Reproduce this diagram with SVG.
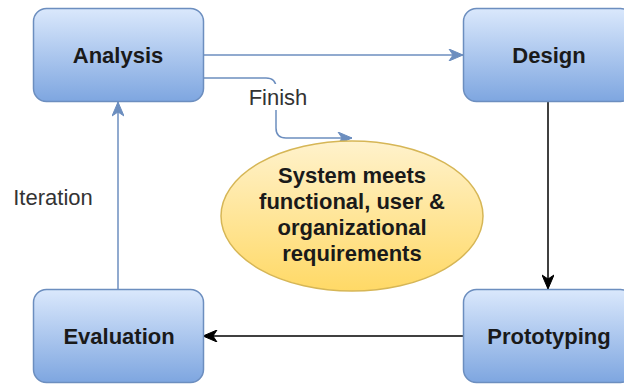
<svg xmlns="http://www.w3.org/2000/svg" width="624" height="384" viewBox="0 0 624 384">
<defs>
<linearGradient id="gBlue" x1="0" y1="0" x2="0" y2="1">
<stop offset="0" stop-color="#dae8fc"/>
<stop offset="1" stop-color="#7ea6e0"/>
</linearGradient>
<linearGradient id="gYel" x1="0" y1="0" x2="0" y2="1">
<stop offset="0" stop-color="#fff2cc"/>
<stop offset="1" stop-color="#ffd966"/>
</linearGradient>
<marker id="aBlue" viewBox="0 0 16 12" refX="15" refY="6" markerWidth="16" markerHeight="12" markerUnits="userSpaceOnUse" orient="auto">
<path d="M15,6 L1,0 L5,6 L1,12 Z" fill="#6c8ebf" stroke="#6c8ebf" stroke-width="1"/>
</marker>
<marker id="aBlack" viewBox="0 0 16 12" refX="15" refY="6" markerWidth="16" markerHeight="12" markerUnits="userSpaceOnUse" orient="auto">
<path d="M15,6 L1,0 L5,6 L1,12 Z" fill="#000" stroke="#000" stroke-width="1"/>
</marker>
</defs>
<style>
.box{fill:url(#gBlue);stroke:#6c8ebf;stroke-width:1.5}
.lbl{font-family:"Liberation Sans",Arial,sans-serif;font-size:22px;font-weight:bold;fill:#1a1a1a;text-anchor:middle}
.note{font-family:"Liberation Sans",Arial,sans-serif;font-size:22px;fill:#333;text-anchor:middle}
.cb{fill:none;stroke:#6c8ebf;stroke-width:1.5}
.ck{fill:none;stroke:#000;stroke-width:1.5}
</style>
<rect width="624" height="384" fill="#fff"/>
<g id="connectors">
<path class="cb" d="M203,55 L463,55" marker-end="url(#aBlue)"/>
<path class="cb" d="M203,78 L266,78 Q276,78 276,88 L276,128 Q276,138 286,138 L352,138" marker-end="url(#aBlue)"/>
<path class="ck" d="M548,102 L548,289" marker-end="url(#aBlack)"/>
<path class="ck" d="M463,336 L203,336" marker-end="url(#aBlack)"/>
<path class="cb" d="M118,289 L118,102" marker-end="url(#aBlue)"/>
<rect x="246" y="84" width="64" height="26" fill="#fff"/>
<text class="note" x="278" y="105">Finish</text>
<text class="note" x="53" y="205">Iteration</text>
</g>
<g id="analysis">
<rect class="box" x="33.5" y="8.5" width="170" height="93" rx="13"/>
<text class="lbl" x="118" y="63">Analysis</text>
</g>
<g id="design">
<rect class="box" x="463.5" y="8.5" width="170" height="93" rx="13"/>
<text class="lbl" x="549" y="63">Design</text>
</g>
<g id="prototyping">
<rect class="box" x="463.5" y="289.5" width="170" height="93" rx="13"/>
<text class="lbl" x="549" y="344">Prototyping</text>
</g>
<g id="evaluation">
<rect class="box" x="33.5" y="289.5" width="170" height="93" rx="13"/>
<text class="lbl" x="119" y="344">Evaluation</text>
</g>
<g id="goal">
<ellipse cx="352" cy="216" rx="131" ry="75" fill="url(#gYel)" stroke="#d6b656" stroke-width="1.5"/>
<text class="lbl" x="352" y="183">System meets</text>
<text class="lbl" x="352" y="209">functional, user &amp;</text>
<text class="lbl" x="352" y="235">organizational</text>
<text class="lbl" x="352" y="261">requirements</text>
</g>
</svg>
